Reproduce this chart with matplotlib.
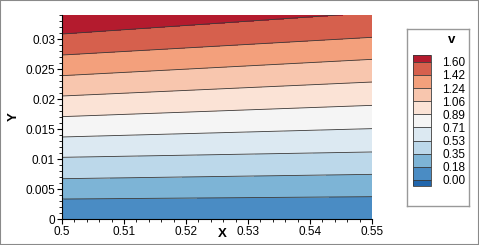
import numpy as np
import matplotlib
matplotlib.use('Agg')
import matplotlib.pyplot as plt
from matplotlib.colors import ListedColormap
from matplotlib.patches import Rectangle

plt.rcParams['font.family'] = ['Liberation Sans', 'DejaVu Sans']

# contour levels of v and where each level line crosses the left / right edge
levels = [0.0, 0.178, 0.356, 0.533, 0.711, 0.889, 1.067, 1.244, 1.422, 1.6]
level_labels = ['0.00', '0.18', '0.35', '0.53', '0.71', '0.89', '1.06', '1.24', '1.42', '1.60']
x_edges = [0.5, 0.55]
y_left = [0.0, 0.00333, 0.00672, 0.01028, 0.01367, 0.01706, 0.0205, 0.02389, 0.02733, 0.03083]
y_right = [0.0, 0.00372, 0.00744, 0.01117, 0.01506, 0.01894, 0.02283, 0.02661, 0.03028, 0.0344]
# values on a row above the plotted top (y = 0.036)
y_top = 0.036
v_top = [1.87, 1.675]

band_colors = ['#4a8cc4', '#7db4d6', '#bcd8ea', '#dce9f2', '#f5f5f5',
               '#fbe3d6', '#f8c6ae', '#f3a07c', '#d6604d']
under_color = '#2166ac'
over_color = '#b41b2e'

xticks = [0.5, 0.51, 0.52, 0.53, 0.54, 0.55]
xtick_labels = ['0.5', '0.51', '0.52', '0.53', '0.54', '0.55']
yticks = [0, 0.005, 0.01, 0.015, 0.02, 0.025, 0.03]
ytick_labels = ['0', '0.005', '0.01', '0.015', '0.02', '0.025', '0.03']

# curvilinear grid built from the read level crossings
X = np.array([x_edges] * (len(levels) + 1))
Y = np.column_stack([y_left + [y_top], y_right + [y_top]])
Z = np.column_stack([levels + [v_top[0]], levels + [v_top[1]]])

W, H = 479, 245
fig = plt.figure(figsize=(W / 100, H / 100), dpi=100)
fig.patches.append(Rectangle((0, 0), 1, 1, transform=fig.transFigure,
                             fill=False, edgecolor='#8a8a8a', lw=1.5))

ax = fig.add_axes([62 / W, 1 - 219 / H, 310 / W, 204 / H])
cmap = ListedColormap(band_colors)
cmap.set_under(under_color)
cmap.set_over(over_color)
cs = ax.contourf(X, Y, Z, levels=levels, cmap=cmap, extend='both')
ax.contour(X, Y, Z, levels=levels[1:], colors='#3a3a3a', linewidths=0.6)

ax.set_xlim(0.5, 0.55)
ax.set_ylim(0, 0.034)
ax.spines['top'].set_visible(False)
ax.spines['right'].set_visible(False)
ax.set_xticks(xticks)
ax.set_xticklabels(xtick_labels)
ax.set_yticks(yticks)
ax.set_yticklabels(ytick_labels)
ax.set_xticks(np.arange(0.502, 0.55, 0.002), minor=True)
ax.set_yticks(np.arange(0.001, 0.0345, 0.001), minor=True)
ax.tick_params(which='major', length=3.5, width=0.8, labelsize=8.5, pad=1.5)
ax.tick_params(which='minor', length=2, width=0.6)
ax.set_xlabel('X', fontsize=9.5, fontweight='bold', va='center')
ax.set_ylabel('Y', fontsize=9.5, fontweight='bold', labelpad=4)
ax.xaxis.set_label_coords((222 - 62) / 310, -(234 - 219) / 204)

# legend frame and colour bar
lframe = fig.add_axes([407 / W, 1 - 206 / H, 62 / W, 177 / H])
lframe.set_xticks([])
lframe.set_yticks([])
for s in lframe.spines.values():
    s.set_edgecolor('#999999')
    s.set_linewidth(1)
cax = fig.add_axes([413 / W, 1 - 186.3 / H, 18 / W, 130.8 / H])
cb = fig.colorbar(cs, cax=cax, extend='both', extendrect=True,
                  extendfrac=0.054, drawedges=True)
cb.set_ticks(levels)
cb.set_ticklabels(level_labels)
cb.ax.tick_params(length=0, labelsize=8.5, pad=8)
cb.outline.set_edgecolor('#3a3a3a')
cb.outline.set_linewidth(0.6)
cb.dividers.set_color('#3a3a3a')
cb.dividers.set_linewidth(0.6)
fig.text(452 / W, 1 - 40 / H, 'v', fontsize=9.5, fontweight='bold',
         ha='center', va='center')

fig.savefig('out.png', dpi=100)
